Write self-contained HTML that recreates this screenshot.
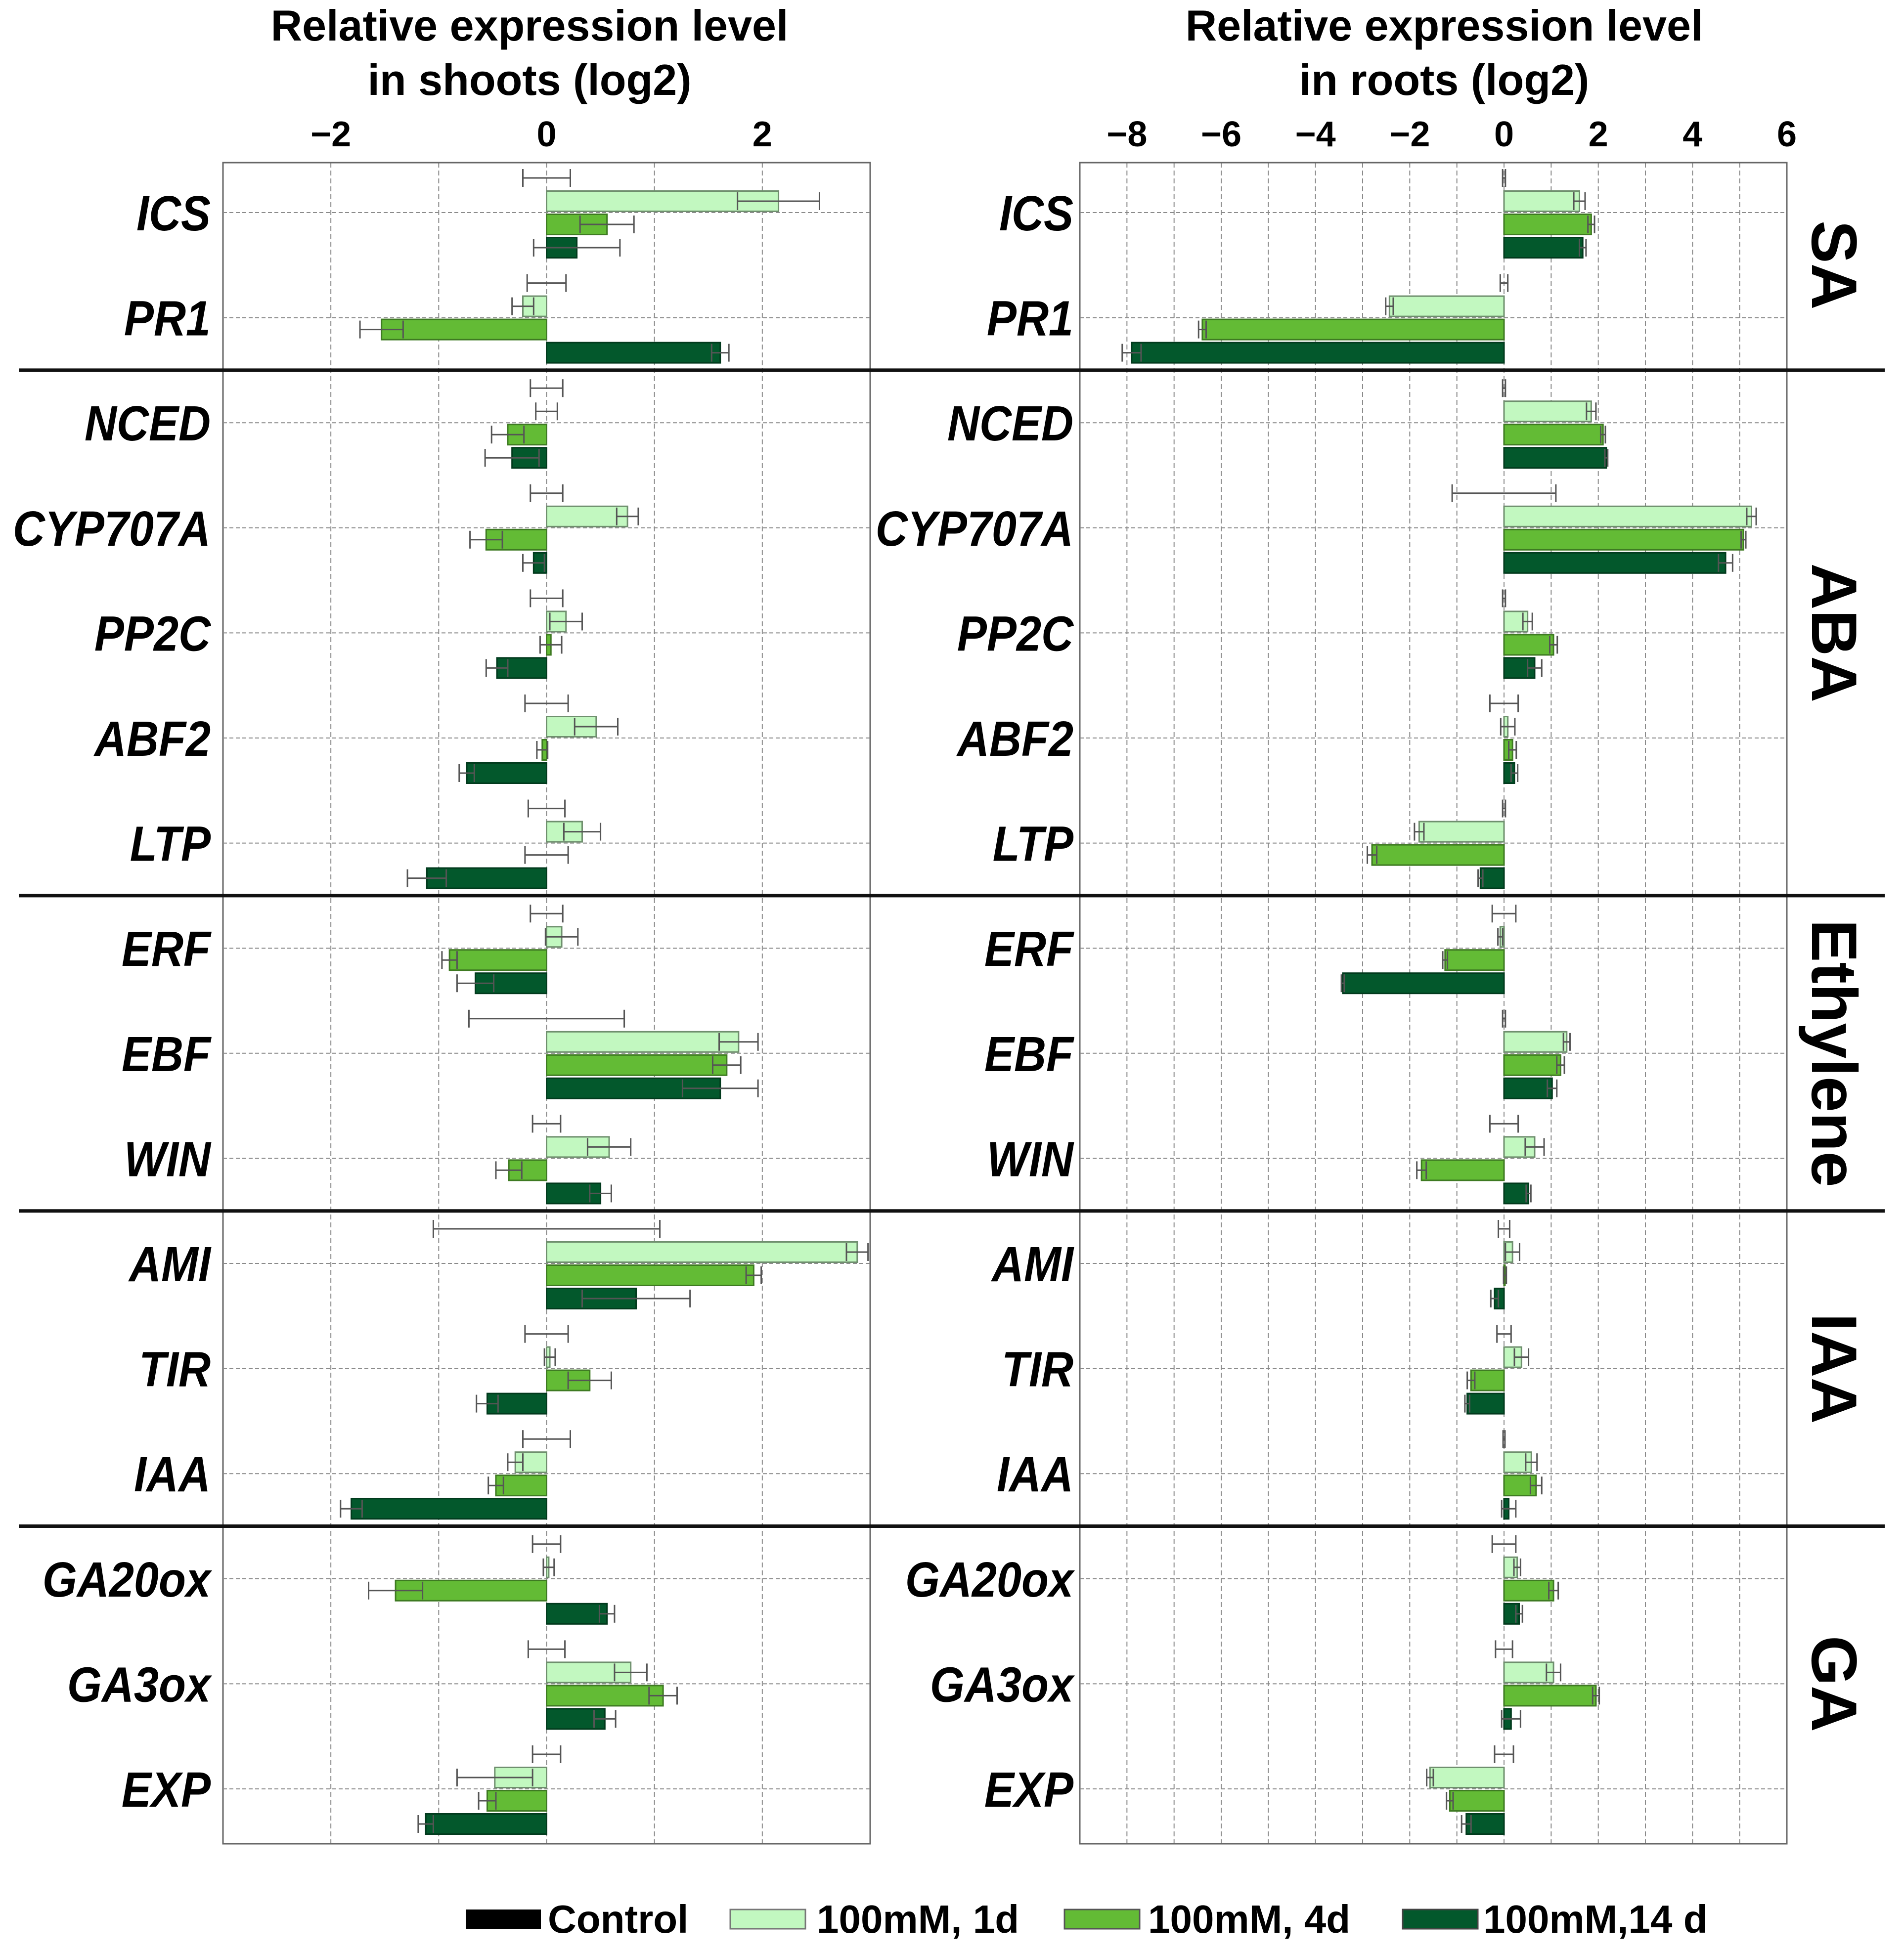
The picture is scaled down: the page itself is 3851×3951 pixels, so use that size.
<!DOCTYPE html>
<html><head><meta charset="utf-8">
<style>
html,body{margin:0;padding:0;background:#fff;}
svg{display:block;font-family:"Liberation Sans",Arial,sans-serif;}
</style></head>
<body>
<svg id="chart" width="3851" height="3951" viewBox="0 0 3851 3951" xmlns="http://www.w3.org/2000/svg">
<rect x="0" y="0" width="3851" height="3951" fill="#fff"/>
<g id="grid"></g>
<g id="bars"></g>
<g id="labels"></g>
<text x="1071" y="82" text-anchor="middle" font-size="88" font-weight="bold">Relative expression level</text>
<text x="1071" y="192" text-anchor="middle" font-size="88" font-weight="bold">in shoots (log2)</text>
<text x="2921" y="82" text-anchor="middle" font-size="88" font-weight="bold">Relative expression level</text>
<text x="2921" y="192" text-anchor="middle" font-size="88" font-weight="bold">in roots (log2)</text>
<g>
  <rect x="942" y="3863" width="152" height="39" fill="#000"/>
  <text x="1108" y="3910" font-size="80" font-weight="bold">Control</text>
  <rect x="1477" y="3863" width="152" height="39" fill="#c2f8c0" stroke="#777" stroke-width="3"/>
  <text x="1652" y="3910" font-size="80" font-weight="bold">100mM, 1d</text>
  <rect x="2153" y="3863" width="152" height="39" fill="#63bb35" stroke="#555" stroke-width="3"/>
  <text x="2322" y="3910" font-size="80" font-weight="bold">100mM, 4d</text>
  <rect x="2837" y="3863" width="152" height="39" fill="#03582c" stroke="#444" stroke-width="3"/>
  <text x="3000" y="3910" font-size="80" font-weight="bold">100mM,14 d</text>
</g>
</svg>
<script>
const genes = ["ICS","PR1","NCED","CYP707A","PP2C","ABF2","LTP","ERF","EBF","WIN","AMI","TIR","IAA","GA20ox","GA3ox","EXP"];
const groups = ["SA","ABA","Ethylene","IAA","GA"];
const groupEnds = [1,6,9,12,15];
const series = ["Control","100mM, 1d","100mM, 4d","100mM,14 d"];
const shootTicks = [-2,0,2];
const rootTicks = [-8,-6,-4,-2,0,2,4,6];
// shoots: per series values and errors
const shootCtrl = [0,0,0,0,0,0,0,0,0,0,0,0,0,0,0,0];
const shootCtrlErr = [0.22,0.18,0.15,0.15,0.15,0.2,0.17,0.15,0.72,0.13,1.05,0.2,0.22,0.13,0.17,0.13];
const shoot1d = [2.15,-0.22,0.0,0.75,0.18,0.46,0.33,0.14,1.78,0.58,2.88,0.03,-0.29,0.02,0.78,-0.48];
const shoot1dErr = [0.38,0.1,0.1,0.1,0.15,0.2,0.17,0.15,0.18,0.2,0.1,0.05,0.07,0.05,0.15,0.35];
const shoot4d = [0.56,-1.53,-0.36,-0.56,0.04,-0.04,0.0,-0.9,1.67,-0.35,1.92,0.4,-0.47,-1.4,1.08,-0.55];
const shoot4dErr = [0.25,0.2,0.15,0.15,0.1,0.05,0.2,0.07,0.13,0.12,0.07,0.2,0.07,0.25,0.13,0.08];
const shoot14d = [0.28,1.61,-0.32,-0.12,-0.46,-0.74,-1.11,-0.66,1.61,0.5,0.83,-0.55,-1.81,0.56,0.54,-1.12];
const shoot14dErr = [0.4,0.08,0.25,0.1,0.1,0.07,0.18,0.17,0.35,0.1,0.5,0.1,0.1,0.07,0.1,0.07];
// roots
const rootCtrl = [0,0,0,0,0,0,0,0,0,0,0,0,0,0,0,0];
const rootCtrlErr = [0.03,0.08,0.03,1.1,0.03,0.3,0.03,0.25,0.03,0.3,0.12,0.15,0.02,0.25,0.18,0.2];
const root1d = [1.6,-2.43,1.85,5.25,0.5,0.08,-1.8,-0.08,1.33,0.65,0.18,0.37,0.58,0.28,1.05,-1.57];
const root1dErr = [0.12,0.08,0.1,0.1,0.1,0.15,0.1,0.05,0.07,0.2,0.15,0.15,0.12,0.07,0.15,0.07];
const root4d = [1.85,-6.4,2.1,5.08,1.05,0.18,-2.8,-1.25,1.2,-1.75,0.02,-0.7,0.68,1.05,1.95,-1.15];
const root4dErr = [0.07,0.08,0.05,0.05,0.08,0.08,0.1,0.05,0.08,0.1,0.03,0.08,0.12,0.1,0.07,0.07];
const root14d = [1.67,-7.9,2.17,4.7,0.65,0.22,-0.5,-3.42,1.02,0.52,-0.2,-0.78,0.1,0.32,0.15,-0.8];
const root14dErr = [0.07,0.2,0.03,0.15,0.15,0.07,0.05,0.03,0.1,0.05,0.08,0.05,0.15,0.07,0.2,0.1];

const NS="http://www.w3.org/2000/svg";
const gGrid=document.getElementById('grid'), gBars=document.getElementById('bars'), gLab=document.getElementById('labels');
function mk(tag,attrs,parent){const e=document.createElementNS(NS,tag);for(const k in attrs)e.setAttribute(k,attrs[k]);parent.appendChild(e);return e;}
const TOP=329, BOT=3730, ROW0=430, ROWH=212.6;
const slotOff=[-70,-23,24,71], BARH=41;
const fills=["#000","#c2f8c0","#63bb35","#03582c"], strokes=["#000","#6f8f6e","#3e7a22","#023a1d"];
function rowY(i){return ROW0+i*ROWH;}
const panels=[
  {name:"shoots",x0:451,x1:1760,dmin:-3,dmax:3,ticks:shootTicks,labelX:426,
   vals:[shootCtrl,shoot1d,shoot4d,shoot14d],errs:[shootCtrlErr,shoot1dErr,shoot4dErr,shoot14dErr]},
  {name:"roots",x0:2184,x1:3614,dmin:-9,dmax:6,ticks:rootTicks,labelX:2171,
   vals:[rootCtrl,root1d,root4d,root14d],errs:[rootCtrlErr,root1dErr,root4dErr,root14dErr]}
];
panels.forEach(p=>{
  const sx=v=>p.x0+(v-p.dmin)/(p.dmax-p.dmin)*(p.x1-p.x0);
  for(let v=p.dmin+1;v<p.dmax;v++){
    const l=mk('line',{x1:sx(v),x2:sx(v),y1:TOP,y2:BOT,stroke:'#8a8a8a','stroke-width':2,'stroke-dasharray':'10,6'},gGrid);
    
    
  }
  const fr=mk('rect',{x:p.x0,y:TOP,width:p.x1-p.x0,height:BOT-TOP,fill:'none',stroke:'#666','stroke-width':3},gGrid);
  
  
  p.ticks.forEach(t=>{
    const tx=mk('text',{x:sx(t),y:296,'text-anchor':'middle','font-size':72,'font-weight':'bold'},gLab);
    tx.textContent=(t<0?'\u2212'+(-t):String(t));
    
    
  });
  genes.forEach((g,i)=>{
    const y=rowY(i);
    const hl=mk('line',{x1:p.x0,x2:p.x1,y1:y,y2:y,stroke:'#8a8a8a','stroke-width':2,'stroke-dasharray':'8,5'},gGrid);
    
    
    const lb=mk('text',{x:0,y:0,'text-anchor':'end','font-size':100,'font-weight':'bold','font-style':'italic',
      transform:`translate(${p.labelX},${y+36}) scale(0.9,1)`},gLab);
    lb.textContent=g;
    
    
    for(let s=0;s<4;s++){
      const v=p.vals[s][i], e=p.errs[s][i], cy=y+slotOff[s];
      const xa=Math.min(sx(0),sx(v)), w=Math.abs(sx(v)-sx(0));
      if(w>0.5){
        const r=mk('rect',{x:xa,y:cy-BARH/2,width:w,height:BARH,fill:fills[s],stroke:strokes[s],'stroke-width':3},gBars);
        
        
      }
      const ea=sx(v-e), eb=sx(v+e);
      const eg=mk('g',{stroke:'#555','stroke-width':3},gBars);
      
      
      mk('line',{x1:ea,x2:eb,y1:cy,y2:cy},eg);
      mk('line',{x1:ea,x2:ea,y1:cy-18,y2:cy+18},eg);
      mk('line',{x1:eb,x2:eb,y1:cy-18,y2:cy+18},eg);
    }
  });
});
let start=0;
groupEnds.forEach((end,k)=>{
  if(k<groupEnds.length-1){
    const yl=(rowY(end)+rowY(end+1))/2;
    const sl=mk('line',{x1:38,x2:3812,y1:yl,y2:yl,stroke:'#111','stroke-width':7},gLab);
    
    
  }
  const yc=(rowY(start)+rowY(end))/2;
  const t=mk('text',{x:0,y:0,'text-anchor':'middle','font-size':130,'font-weight':'bold',
    transform:`translate(3665,${yc}) rotate(90)`},gLab);
  t.textContent=groups[k];
  
  
  start=end+1;
});
</script>
</body></html>
